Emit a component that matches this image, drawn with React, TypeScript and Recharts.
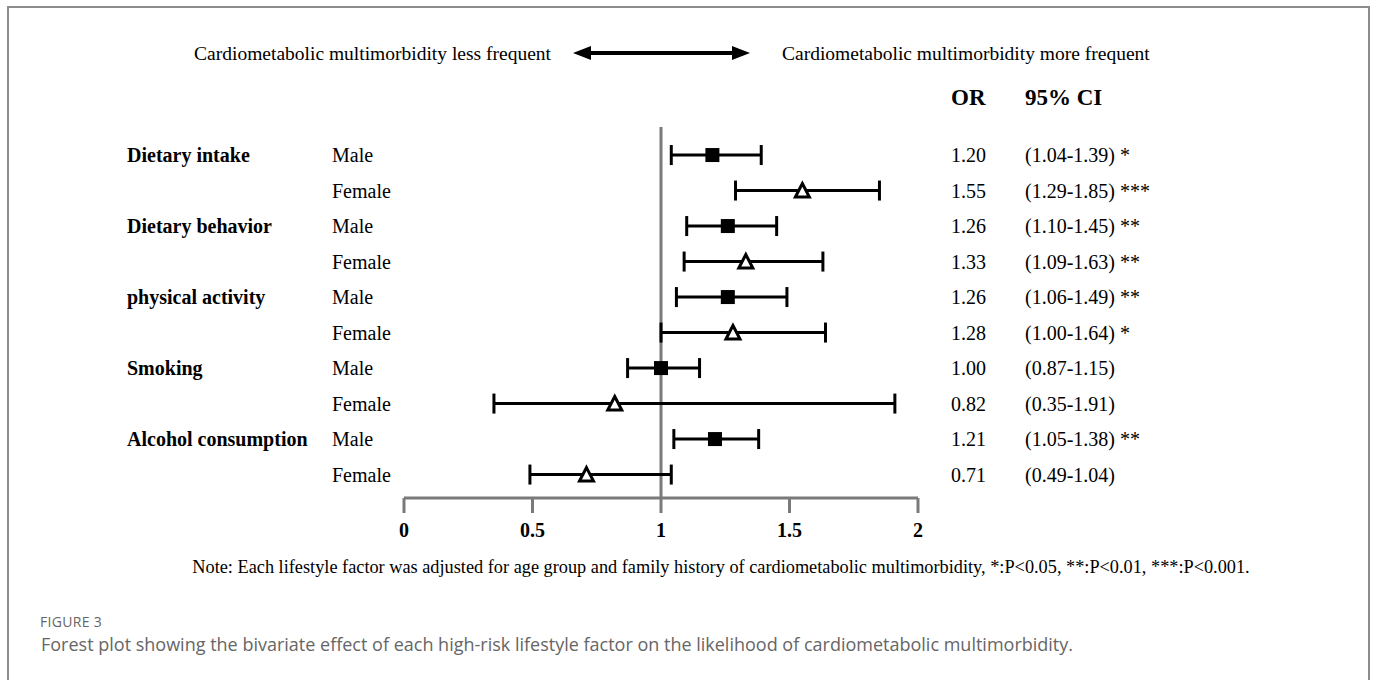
import React from 'react';
import { ScatterChart, Scatter, XAxis, YAxis, ErrorBar, ReferenceLine } from 'recharts';

const groups = ['Dietary intake', 'Dietary behavior', 'physical activity', 'Smoking', 'Alcohol consumption'];
const sexes = ['Male', 'Female'];
const orValues = [1.2, 1.55, 1.26, 1.33, 1.26, 1.28, 1.0, 0.82, 1.21, 0.71];
const ciLow = [1.04, 1.29, 1.1, 1.09, 1.06, 1.0, 0.87, 0.35, 1.05, 0.49];
const ciHigh = [1.39, 1.85, 1.45, 1.63, 1.49, 1.64, 1.15, 1.91, 1.38, 1.04];
const orLabels = ['1.20', '1.55', '1.26', '1.33', '1.26', '1.28', '1.00', '0.82', '1.21', '0.71'];
const ciLabels = ['(1.04-1.39)', '(1.29-1.85)', '(1.10-1.45)', '(1.09-1.63)', '(1.06-1.49)', '(1.00-1.64)', '(0.87-1.15)', '(0.35-1.91)', '(1.05-1.38)', '(0.49-1.04)'];
const sigLabels = ['*', '***', '**', '**', '**', '*', '', '', '**', ''];
const xTicks = [0, 0.5, 1, 1.5, 2];
const rowTicks = [0, 1, 2, 3, 4, 5, 6, 7, 8, 9];

const leftHeader = 'Cardiometabolic multimorbidity less frequent';
const rightHeader = 'Cardiometabolic multimorbidity more frequent';
const orHeader = 'OR';
const ciHeader = '95% CI';
const noteText = 'Note: Each lifestyle factor was adjusted for age group and family history of cardiometabolic multimorbidity, *:P<0.05, **:P<0.01, ***:P<0.001.';
const figureLabel = 'FIGURE 3';
const captionText = 'Forest plot showing the bivariate effect of each high-risk lifestyle factor on the likelihood of cardiometabolic multimorbidity.';

const rows = orValues.map((v, i) => ({
  row: i,
  or: v,
  err: [v - ciLow[i], ciHigh[i] - v],
}));
const maleData = rows.filter((r) => r.row % 2 === 0);
const femaleData = rows.filter((r) => r.row % 2 === 1);

const SERIF = '"Liberation Serif", "Times New Roman", serif';
const SANS = '"Open Sans", "Noto Sans", sans-serif';
const GRAY = '#7a7a7a';

const RowTick = (props: any) => {
  const { y, payload } = props;
  const i = payload.value as number;
  const group = i % 2 === 0 ? groups[i / 2] : '';
  return (
    <g>
      {group && (
        <text x={127} y={y} dy={7} fontFamily={SERIF} fontSize={20} fontWeight="bold" fill="#000">
          {group}
        </text>
      )}
      <text x={332} y={y} dy={7} fontFamily={SERIF} fontSize={20} fill="#000">
        {sexes[i % 2]}
      </text>
      <text x={951} y={y} dy={7} fontFamily={SERIF} fontSize={20} fill="#000">
        {orLabels[i]}
      </text>
      <text x={1025} y={y} dy={7} fontFamily={SERIF} fontSize={20} fill="#000">
        {ciLabels[i]}
        {sigLabels[i] ? ' ' + sigLabels[i] : ''}
      </text>
    </g>
  );
};

const SquareShape = (props: any) => {
  const { cx, cy } = props;
  return <rect x={cx - 7} y={cy - 7} width={14} height={14} fill="#000" />;
};

const TriangleShape = (props: any) => {
  const { cx, cy } = props;
  return (
    <polygon
      points={`${cx},${cy - 7} ${cx + 7},${cy + 6.5} ${cx - 7},${cy + 6.5}`}
      fill="#fff"
      stroke="#000"
      strokeWidth={3}
      strokeLinejoin="miter"
    />
  );
};

export default function App() {
  return (
    <div style={{ position: 'absolute', left: 0, top: 0, width: 1375, height: 680, background: '#fff', overflow: 'hidden' }}>
      <div
        style={{
          position: 'absolute',
          left: 7,
          top: 6,
          width: 1359,
          height: 700,
          border: '2px solid #8c8c8c',
        }}
      />
      <div style={{ position: 'absolute', left: 0, top: 0 }}>
        <ScatterChart width={1375} height={560} margin={{ top: 127, right: 457, bottom: 0, left: 0 }}>
          <XAxis
            type="number"
            dataKey="or"
            domain={[0, 2]}
            ticks={xTicks}
            interval={0}
            height={62}
            axisLine={{ stroke: GRAY, strokeWidth: 3 }}
            tickLine={{ stroke: GRAY, strokeWidth: 3 }}
            tickSize={15}
            tickMargin={10}
            tick={{ fill: '#000', fontSize: 20, fontWeight: 'bold', fontFamily: SERIF }}
          />
          <YAxis
            type="number"
            dataKey="row"
            domain={[-0.79, 9.66]}
            reversed
            ticks={rowTicks}
            interval={0}
            width={404}
            axisLine={false}
            tickLine={false}
            tick={<RowTick />}
            allowDataOverflow
          />
          <ReferenceLine x={1} stroke={GRAY} strokeWidth={3} />
          <Scatter data={maleData} shape={<SquareShape />} isAnimationActive={false}>
            <ErrorBar dataKey="err" direction="x" width={10} strokeWidth={3} stroke="#000" />
          </Scatter>
          <Scatter data={femaleData} shape={<TriangleShape />} isAnimationActive={false}>
            <ErrorBar dataKey="err" direction="x" width={10} strokeWidth={3} stroke="#000" />
          </Scatter>
        </ScatterChart>
      </div>
      <svg width={1375} height={680} style={{ position: 'absolute', left: 0, top: 0, pointerEvents: 'none' }}>
        <text x={551} y={60} textAnchor="end" fontFamily={SERIF} fontSize={19.5} fill="#000">
          {leftHeader}
        </text>
        <line x1={585} y1={53} x2={738} y2={53} stroke="#000" strokeWidth={4} />
        <polygon points="573,53 591,46 591,60" fill="#000" />
        <polygon points="750,53 732,46 732,60" fill="#000" />
        <text x={782} y={60} fontFamily={SERIF} fontSize={19.5} fill="#000">
          {rightHeader}
        </text>
        <text x={951} y={105} fontFamily={SERIF} fontSize={23} fontWeight="bold" fill="#000">
          {orHeader}
        </text>
        <text x={1025} y={105} fontFamily={SERIF} fontSize={23} fontWeight="bold" fill="#000">
          {ciHeader}
        </text>
        <text x={721} y={573} textAnchor="middle" fontFamily={SERIF} fontSize={18.3} fill="#000">
          {noteText}
        </text>
        <text x={40} y={627} fontFamily={SANS} fontSize={14} fill="#666" letterSpacing={0.3}>
          {figureLabel}
        </text>
        <text x={41} y={651} fontFamily={SANS} fontSize={18} fill="#666">
          {captionText}
        </text>
      </svg>
    </div>
  );
}
